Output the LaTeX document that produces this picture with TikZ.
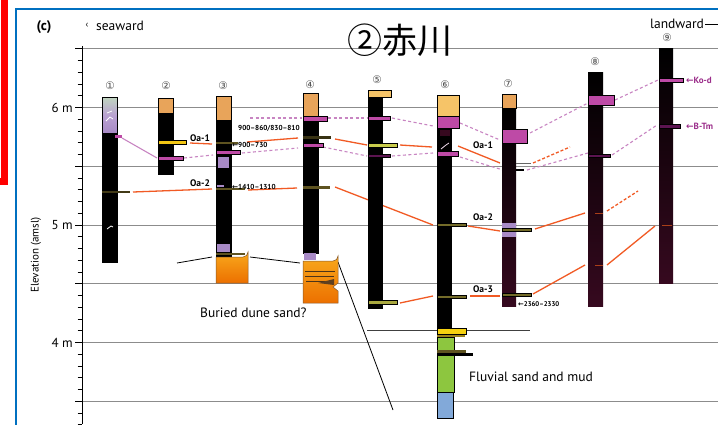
\documentclass[tikz,border=0pt]{standalone}
\usepackage{fontspec}
\setmainfont{PT Sans}
\newfontfamily\cjkfont{Noto Sans CJK JP}
\newfontfamily\symfont{DejaVu Sans}
\definecolor{tanc}{HTML}{E8A45A}
\definecolor{lorange}{HTML}{F6C468}
\definecolor{magc}{HTML}{BE4AA6}
\definecolor{dmagc}{HTML}{5C1450}
\definecolor{lpurp}{HTML}{A88AC6}
\definecolor{olivec}{HTML}{5E5320}
\definecolor{ylwc}{HTML}{F2C614}
\definecolor{ygreen}{HTML}{C9CC4C}
\definecolor{corrc}{HTML}{F15A24}
\definecolor{tephc}{HTML}{C885C2}
\definecolor{gridc}{HTML}{8C8C8C}
\definecolor{framec}{HTML}{0070C0}
\definecolor{maroonc}{HTML}{36091F}
\definecolor{grnc}{HTML}{8DC63F}
\definecolor{bluc}{HTML}{82A9D9}
\definecolor{duneA}{HTML}{F8A81C}
\definecolor{duneB}{HTML}{EC7000}
\definecolor{kodc}{HTML}{9B2D8A}
\begin{document}
\begin{tikzpicture}[x=1pt,y=-1pt,
  core/.style={fill=black},
  deepcore/.style={top color=black,middle color=black!88!maroonc,bottom color=maroonc},
  band/.style={draw=black,line width=0.5pt},
  corrline/.style={draw=corrc,line width=1.3pt},
  corrdash/.style={corrline,dash pattern=on 3pt off 2pt},
  tephline/.style={draw=tephc,line width=1.1pt,dash pattern=on 3pt off 2.5pt},
  gridline/.style={draw=gridc,line width=1.1pt},
  lbl/.style={font=\bfseries\fontsize{9.5}{10}\selectfont,inner sep=0pt},
  agelbl/.style={font=\bfseries\fontsize{7.2}{8}\selectfont,inner sep=0pt,anchor=west},
  numlbl/.style={font=\symfont\fontsize{10.5}{10.5}\selectfont,text=black!70,inner sep=0pt},
  txt/.style={font=\fontsize{13.5}{14}\selectfont,inner sep=0pt,anchor=west},
  ticklbl/.style={font=\fontsize{13}{13}\selectfont,anchor=east,inner sep=0pt},
  tephlbl/.style={font=\bfseries\fontsize{9}{9}\selectfont,text=kodc,inner sep=0pt,anchor=west}]
\useasboundingbox (0,0) rectangle (718,424);
\fill[white] (0,0) rectangle (718,424);

% frames
\draw[red,line width=7pt] (-10,181) -- (4.5,181) -- (4.5,-10);
\draw[framec,line width=1.5pt] (16,430) -- (16,9) -- (730,9);

% elevation grid, every 0.5 m
\foreach \yy in {48.9,107.7,166.4,225.2,283.9,342.7,401.4}
  \draw[gridline] (82,\yy) -- (718,\yy);

% axis with 0.1 m ticks
\draw[line width=1pt] (82,46) -- (82,424);
\foreach \i in {0,...,32}
  \draw[line width=0.9pt] (77.5,{48.9+\i*11.75}) -- (82,{48.9+\i*11.75});
\foreach \i in {0,...,6}
  \draw[line width=1pt] (75,{48.9+\i*58.75}) -- (82,{48.9+\i*58.75});
\node[ticklbl] (t6) at (73,107.7) {6 m};
\node[ticklbl] (t5) at (73,225.2) {5 m};
\node[ticklbl] (t4) at (73,342.7) {4 m};
\node[font=\fontsize{11}{11}\selectfont,rotate=90,inner sep=0pt] (ylab) at (36,255) {Elevation (amsl)};

% headings
\node[font=\bfseries\fontsize{14}{14}\selectfont,inner sep=0pt] (panel) at (44,27) {(c)};
\node[font=\fontsize{9}{9}\selectfont,inner sep=0pt] (seaarrow) at (87,25) {‹};
\node[txt] (sea) at (96,26) {seaward};
\node[txt] (land) at (650,24) {landward};
\coordinate (landend) at (720,24);
\draw[line width=0.9pt] (land.east) ++(1,0) -- (landend);
\node[font=\cjkfont\fontsize{35}{35}\selectfont,inner sep=0pt] (title) at (400,40) {②赤川};

% correlation lines drawn first so the cores cover them
\draw[corrline] (190,143) -- (212,144);
\draw[corrline] (247,142) -- (298,138);
\draw[corrline] (335,139) -- (367,145);
\draw[corrline] (400,145) -- (432,147);
\draw[corrline] (458,146) -- (500,163);
\draw[corrdash] (533,163) -- (570,147);
\draw[corrline] (133,192) -- (212,189);
\draw[corrline] (248,190) -- (297,188);
\draw[corrline] (335,187) -- (433,225);
\draw[corrline] (468,226) -- (500,231);
\draw[corrline] (535,229) -- (585,213);
\draw[corrdash] (607,211) -- (638,191);
\draw[corrline] (400,303) -- (433,296);
\draw[corrline] (470,296) -- (500,296);
\draw[corrline] (533,294) -- (585,265);
\draw[corrline] (607,265) -- (655,226);

% tephra correlations
\draw[draw=tephc,line width=1.1pt] (122,138) -- (157,158);
\draw[tephline] (184,158) -- (213,155);
\draw[tephline] (242,153) -- (298,148);
\draw[tephline] (250,118) -- (302,118);
\draw[tephline] (328,118) -- (367,118);
\draw[tephline] (392,118) -- (433,126);
\draw[tephline] (323,147) -- (367,156);
\draw[tephline] (392,156) -- (433,153);
\draw[tephline] (460,123) -- (500,140);
\draw[tephline] (530,133) -- (588,103);
\draw[tephline] (615,100) -- (658,80);
\draw[tephline] (460,157) -- (503,170);
\draw[tephline] (527,170) -- (588,153);
\draw[tephline] (612,155) -- (657,125);

% outline of the buried dune and the section line
\draw[line width=0.8pt] (177,263) -- (212,257);
\draw[line width=0.8pt] (250,257) -- (300,263);
\draw[line width=0.8pt] (338,262) -- (393,410);
\draw[draw=black!75,line width=0.9pt] (367,330) -- (530,330);

% core 1
\shade[top color=black!15!green!25!gray!40,bottom color=lpurp,middle color=lpurp!80] (102,97) rectangle (117,133);
\fill[core] (102,133) rectangle (117,262);
\draw[line width=0.5pt] (102,97) rectangle (117,262);
\draw[white,line width=0.8pt] (107,113) -- (112,111) (106,121) -- (110,117) -- (113,119) (107,229) -- (111,226) -- (113,227);
\fill[magc] (115,135) rectangle (122,137.5);
\fill[olivec!70!black] (102,191) rectangle (130,193);
\node[numlbl] (n1) at (110,86) {①};

% core 2
\fill[tanc] (158,98) rectangle (173,113);
\fill[core] (158,113) rectangle (173,174);
\draw[line width=0.5pt] (158,98) rectangle (173,174);
\filldraw[band,fill=ylwc] (158,140.5) rectangle (186,144.5);
\filldraw[band,fill=magc] (158,156) rectangle (183,160);
\node[numlbl] (n2) at (166,86) {②};
\node[lbl] (oa1a) at (200,138) {Oa-1};
\node[lbl] (oa2a) at (200,183) {Oa-2};

% core 3
\fill[tanc] (216,96) rectangle (231,120);
\fill[core] (216,120) rectangle (231,256);
\draw[line width=0.5pt] (216,96) rectangle (231,256);
\fill[olivec] (216,142) rectangle (238,144);
\filldraw[band,fill=magc] (216,150) rectangle (240,154);
\fill[lpurp] (218,157) rectangle (229,168);
\fill[lpurp] (217,185) rectangle (224,187);
\fill[olivec] (216,188) rectangle (245,190);
\fill[lpurp] (217,244) rectangle (230,252);
\fill[olivec] (216,252.5) rectangle (245,254.5);
\shade[top color=duneA,bottom color=duneB,draw=brown!70!black,line width=0.5pt]
  (216,283) -- (216,257) -- (243,257) arc[start angle=90,end angle=0,radius=5] -- (248,283) -- cycle;
\node[numlbl] (n3) at (223,86) {③};
\node[agelbl] (d1) at (238,128) {900–860/830–810};
\node[agelbl] (d2) at (232,145) {\symfont←\bfseries\rmfamily 900–730};
\node[agelbl] (d3) at (232,187) {\symfont←\bfseries\rmfamily 1410–1310};

% core 4
\fill[tanc] (303,93) rectangle (318,118);
\fill[core] (303,118) rectangle (318,253);
\draw[line width=0.5pt] (303,93) rectangle (318,253);
\filldraw[band,fill=magc] (303,116) rectangle (327,121);
\fill[olivec!60!black] (303,136) rectangle (331,139);
\filldraw[band,fill=magc] (303,143) rectangle (323,147);
\fill[olivec] (303,186) rectangle (330,188.5);
\fill[lpurp] (304,253) rectangle (316,260);
\shade[top color=duneA,bottom color=duneB,draw=brown!70!black,line width=0.5pt]
  (303,303) -- (303,261) -- (333,261) arc[start angle=90,end angle=0,radius=5]
  -- (338,283) -- (333,287) -- (338,291) -- (338,303) -- cycle;
\draw[brown!40!black,line width=0.8pt] (305,271) -- (335,271) (305,276) -- (334,276) (306,281) -- (334,281);
\fill[brown!50!black] (318,283) -- (334,279) -- (334,285) -- cycle;
\node[numlbl] (n4) at (310,85) {④};

% core 5
\filldraw[band,fill=lorange] (368,90) rectangle (391,97);
\fill[core] (368,97) rectangle (383,309);
\filldraw[band,fill=magc] (368,116) rectangle (390,120);
\filldraw[band,fill=ygreen] (368,143) rectangle (397,147);
\filldraw[band,fill=dmagc] (368,154) rectangle (390,157.5);
\filldraw[band,fill=ygreen!70!olivec] (368,300) rectangle (397,304);
\node[numlbl] (n5) at (377,80) {⑤};

% core 6
\filldraw[band,fill=lorange] (437,95) rectangle (459,116);
\filldraw[band,fill=magc] (437,116) rectangle (459,128);
\fill[core] (437,128) rectangle (452,328);
\fill[maroonc] (440,130) rectangle (450,136);
\draw[white!80!magc,line width=0.8pt] (441,149) -- (446,145) -- (449,143);
\filldraw[band,fill=magc] (437,151) rectangle (458,156);
\filldraw[band,fill=olivec!80!ygreen] (437,223.5) rectangle (466,226.5);
\filldraw[band,fill=olivec!80!ygreen] (437,295.5) rectangle (466,298.5);
\filldraw[band,fill=ylwc!80!yellow] (437,328) rectangle (466,334);
\fill[olivec!60!ylwc] (437,334.5) rectangle (465,336.5);
\filldraw[band,fill=grnc] (437,337) rectangle (454,392);
\fill[olivec] (437,350) rectangle (466,353);
\fill[black] (437,353) rectangle (473,356);
\filldraw[band,fill=bluc] (437,392) rectangle (453,418);
\node[numlbl] (n6) at (445,85) {⑥};
\node[lbl] (oa1b) at (483,145) {Oa-1};
\node[lbl] (oa2b) at (483,217) {Oa-2};
\node[lbl] (oa3b) at (483,289) {Oa-3};

% core 7
\filldraw[band,fill=tanc] (502,94) rectangle (516,108);
\shade[deepcore] (502,108) rectangle (516,306);
\filldraw[band,fill=magc] (502,129) rectangle (527,143);
\draw[black!60,line width=0.9pt] (516,163) -- (531,163);
\fill[black] (516,169) rectangle (524,171);
\fill[lpurp] (502,223) rectangle (516,228);
\fill[lpurp] (502,232) rectangle (516,237);
\filldraw[band,fill=olivec!80!ygreen] (502,228.5) rectangle (531,231.5);
\filldraw[band,fill=olivec!80!ygreen] (502,293) rectangle (531,296);
\node[numlbl] (n7) at (508,84) {⑦};
\node[agelbl,font=\bfseries\fontsize{6.8}{7}\selectfont] (d4) at (518,304) {\symfont←\bfseries\rmfamily 2360–2330};

% core 8
\shade[deepcore] (588,72) rectangle (603,306);
\filldraw[band,fill=magc] (588,95) rectangle (614,105);
\filldraw[band,fill=dmagc] (588,154) rectangle (610,157);
\fill[corrc!70!black] (595,212.5) rectangle (603,214);
\fill[corrc!70!black] (595,264.5) rectangle (603,266);
\node[numlbl] (n8) at (595,62) {⑧};

% core 9
\shade[deepcore] (659,48) rectangle (673,283);
\filldraw[band,fill=magc] (659,78) rectangle (683,82);
\filldraw[band,fill=dmagc] (659,124.5) rectangle (680,128);
\fill[corrc!70!black] (662,224.5) rectangle (672,226);
\node[numlbl] (n9) at (667,38) {⑨};
\node[tephlbl] (kod) at (686,80) {\symfont←\bfseries\rmfamily Ko-d};
\node[tephlbl] (btm) at (686,126) {\symfont←\bfseries\rmfamily B-Tm};

% unit captions
\node[txt] (dune) at (200,313) {Buried dune sand?};
\node[txt] (fluv) at (469,377) {Fluvial sand and mud};
\end{tikzpicture}
\end{document}
